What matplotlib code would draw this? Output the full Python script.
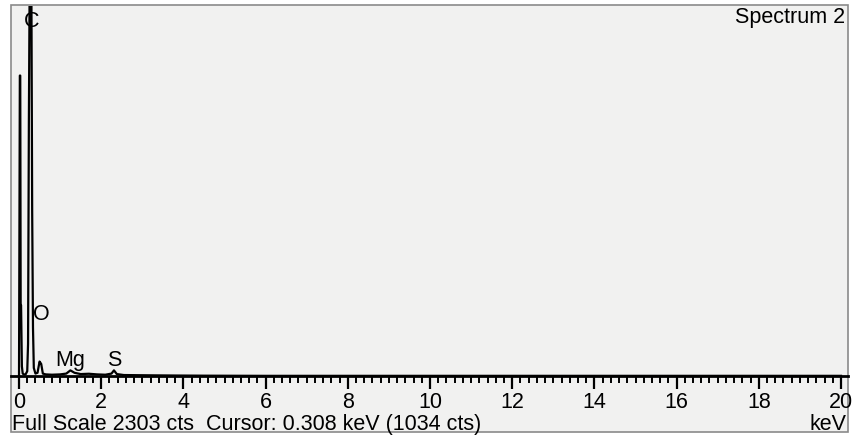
import matplotlib
matplotlib.use("Agg")
import matplotlib.pyplot as plt
from matplotlib.patches import Rectangle
from matplotlib.ticker import MultipleLocator, FormatStrFormatter

plt.rcParams["font.family"] = ["Liberation Sans", "DejaVu Sans"]

# spectrum (keV, counts)
energy = [0.00, 0.01, 0.02, 0.03, 0.04, 0.05, 0.07, 0.09, 0.12, 0.16, 0.20, 0.22, 0.24, 0.26, 0.28, 0.30,
          0.32, 0.34, 0.36, 0.40, 0.45, 0.50, 0.54, 0.58, 0.65, 0.80, 1.00, 1.15, 1.25, 1.35, 1.50,
          1.70, 1.90, 2.10, 2.25, 2.31, 2.38, 2.55, 2.90, 3.30, 3.80, 4.50, 6.00, 10.0, 15.0, 20.0]
counts = [0, 900, 1870, 1870, 450, 440, 60, 15, 10, 10, 30, 200, 1590, 2500, 2700, 2500,
          1034, 300, 50, 15, 20, 90, 75, 15, 10, 8, 10, 15, 35, 20, 12,
          14, 10, 8, 15, 35, 12, 6, 5, 4, 3, 2, 1, 1, 1, 1]
full_scale = 2303
peak_labels = ["C", "O", "Mg", "S"]
peak_pos = [0.30, 0.55, 1.25, 2.31]
peak_y = [2210, 390, 105, 105]

W, H = 853, 439
fig = plt.figure(figsize=(W / 100, H / 100), dpi=100)
fig.patch.set_facecolor("white")
fig.add_artist(Rectangle((11 / W, 1 - 433 / H), 837 / W, 427 / H, transform=fig.transFigure,
                         facecolor="#f1f1f0", edgecolor="#8a8a8a", linewidth=1.2, zorder=0))

ax = fig.add_axes([11 / W, 1 - 377 / H, 837 / W, 370 / H])
ax.patch.set_alpha(0)
ax.plot(energy, counts, color="black", linewidth=1.6, clip_on=True)
ax.set_xlim(-0.195, 20.17)
ax.set_ylim(0, full_scale)
for s in ("top", "left", "right"):
    ax.spines[s].set_visible(False)
ax.spines["bottom"].set_linewidth(2)
ax.set_yticks([])
ax.xaxis.set_major_locator(MultipleLocator(2))
ax.xaxis.set_minor_locator(MultipleLocator(0.2))
ax.xaxis.set_major_formatter(FormatStrFormatter("%d"))
ax.tick_params(axis="x", which="major", direction="out", length=9, width=1.6, labelsize=15.5, pad=2)
ax.tick_params(axis="x", which="minor", direction="out", length=5, width=1.4)

for lab, x, y in zip(peak_labels, peak_pos, peak_y):
    ax.text(x, y, lab, ha="center", va="center", fontsize=15.5)

fig.text(845 / W, 1 - 17 / H, "Spectrum 2", ha="right", va="center", fontsize=15.5)
fig.text(12 / W, 1 - 425 / H, "Full Scale 2303 cts  Cursor: 0.308 keV (1034 cts)",
         ha="left", va="center", fontsize=15.5)
fig.text(847 / W, 1 - 425 / H, "keV", ha="right", va="center", fontsize=15.5)

fig.savefig("out.png", dpi=100)
